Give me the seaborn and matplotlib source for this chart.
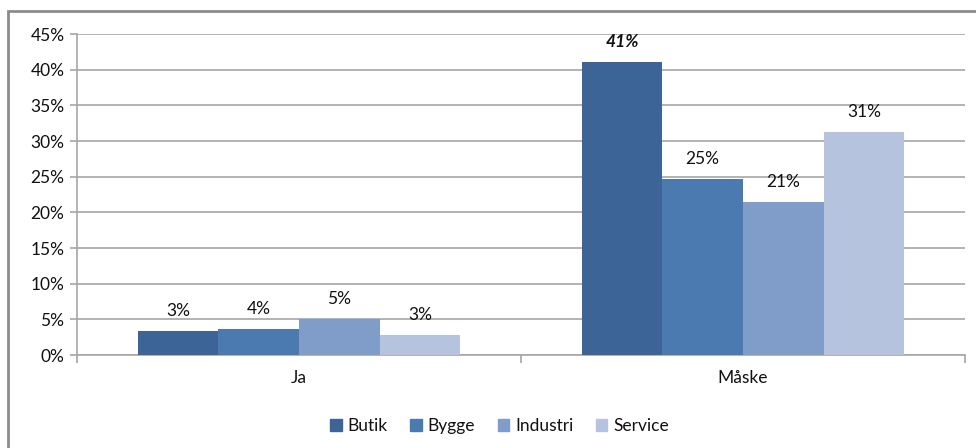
import matplotlib
matplotlib.use("Agg")
import matplotlib.pyplot as plt
import matplotlib.patches as mpatches
from matplotlib.ticker import FuncFormatter, FixedLocator
import seaborn as sns
import pandas as pd

# ---- data ----
answers = ["Ja", "Måske"]
sectors = ["Butik", "Bygge", "Industri", "Service"]
butik = [3.4, 41.1]
bygge = [3.6, 24.7]
industri = [5.0, 21.4]
service = [2.8, 31.3]
colors = ["#3D6496", "#4A7AB0", "#7F9DC8", "#B5C3DE"]
yticks = [0, 5, 10, 15, 20, 25, 30, 35, 40, 45]

series = {"Butik": butik, "Bygge": bygge, "Industri": industri, "Service": service}
rows = []
for s in sectors:
    for a, v in zip(answers, series[s]):
        rows.append({"Svar": a, "Sektor": s, "Andel": v})
df = pd.DataFrame(rows)

sns.set_theme(style="white")
plt.rcParams["font.family"] = ["Lato", "DejaVu Sans"]
FS = 12.5
TXT = "#111111"

fig = plt.figure(figsize=(9.76, 4.48), dpi=100)
ax = fig.add_axes([77 / 976, 1 - 355 / 448, (965 - 77) / 976, (355 - 34) / 448])

sns.barplot(data=df, x="Svar", y="Andel", hue="Sektor", hue_order=sectors,
            order=answers, palette=colors, width=0.727, saturation=1,
            ax=ax, zorder=3, linewidth=0)
if ax.get_legend() is not None:
    ax.get_legend().remove()

ax.set_ylim(0, 45)
ax.set_xlim(-0.5, 1.5)
ax.set_yticks(yticks)
ax.yaxis.set_major_formatter(FuncFormatter(lambda v, p: f"{int(v)}%"))
ax.set_xlabel("")
ax.set_ylabel("")
grid_c = "#A6A6A6"
ax.grid(axis="y", color=grid_c, linewidth=1.2, zorder=0)
ax.set_axisbelow(True)
for side in ["top", "right"]:
    ax.spines[side].set_visible(False)
for side in ["left", "bottom"]:
    ax.spines[side].set_color(grid_c)
    ax.spines[side].set_linewidth(1.2)
ax.tick_params(axis="y", which="major", length=5, width=1.2, color=grid_c,
               labelsize=FS, labelcolor=TXT, pad=4, left=True)
ax.tick_params(axis="x", which="major", length=0, labelsize=FS,
               labelcolor=TXT, pad=11)
ax.xaxis.set_minor_locator(FixedLocator([-0.5, 0.5, 1.5]))
ax.tick_params(axis="x", which="minor", length=6, width=1.2, color=grid_c,
               bottom=True)

# data labels
for i, cont in enumerate(ax.containers):
    for j, bar in enumerate(cont):
        v = series[sectors[i]][j]
        bold = (sectors[i] == "Butik" and answers[j] == "Måske")
        ax.annotate(f"{round(v):d}%",
                    (bar.get_x() + bar.get_width() / 2, bar.get_height()),
                    xytext=(0, 14.5), textcoords="offset points",
                    ha="center", va="center", fontsize=FS, color=TXT,
                    fontweight="bold" if bold else "normal",
                    fontstyle="italic" if bold else "normal",
                    annotation_clip=False)

# legend
handles = [mpatches.Patch(color=c, label=s) for c, s in zip(colors, sectors)]
fig.legend(handles=handles, loc="center", bbox_to_anchor=(0.512, 1 - 426 / 448),
           ncol=4, frameon=False, fontsize=FS, handlelength=0.65,
           handleheight=0.65, handletextpad=0.35, columnspacing=1.3,
           labelcolor=TXT)

# outer frame
frame = mpatches.Rectangle((8 / 976, -0.2), 1.3, 0.2 + (1 - 11 / 448),
                           transform=fig.transFigure, fill=False,
                           edgecolor="#8C8C8C", linewidth=2, clip_on=False)
fig.patches.append(frame)

fig.savefig("out.png", dpi=100)
